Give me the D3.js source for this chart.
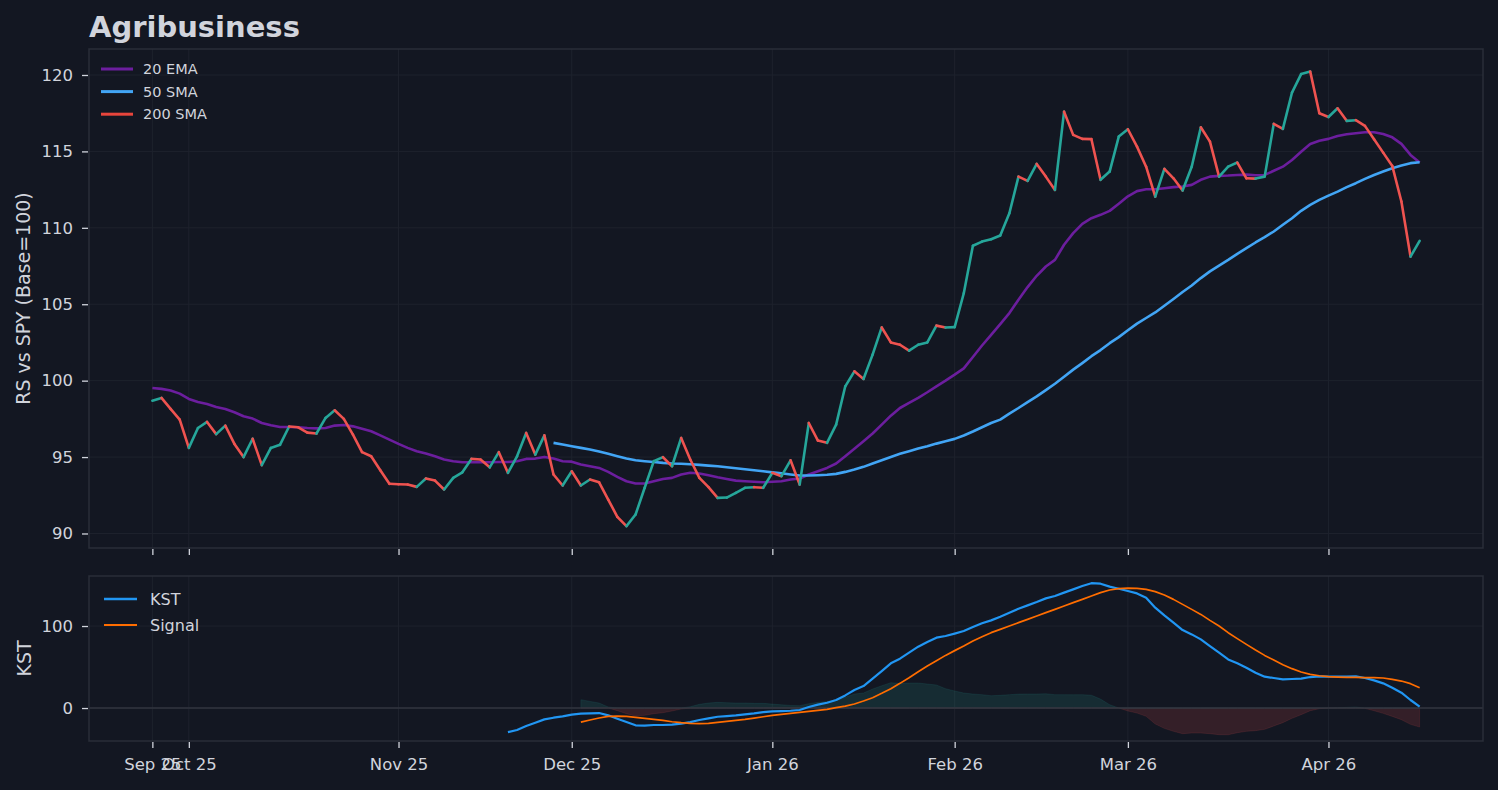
<!DOCTYPE html>
<html>
<head>
<meta charset="utf-8">
<script src="https://cdn.jsdelivr.net/npm/d3@7"></script>
<style>
  html, body { margin: 0; padding: 0; background: #131722; }
  svg { display: block; font-family: 'DejaVu Sans', sans-serif; }
</style>
</head>
<body>
<div id="chart"></div>
<script>
// Relative strength vs SPY, one value per trading day (index based x axis)
const rs = [
  98.69, 98.87, 98.15, 97.45, 95.6, 96.9, 97.3, 96.5, 97.06, 95.86,
  95.0, 96.2, 94.47, 95.6, 95.8, 97.0, 96.95, 96.6, 96.54, 97.56,
  98.06, 97.5, 96.47, 95.32, 95.05, 94.14, 93.25, 93.22, 93.2, 93.05,
  93.6, 93.46, 92.88, 93.64, 94.0, 94.88, 94.84, 94.33, 95.32, 93.97,
  95.05, 96.58, 95.16, 96.42, 93.86, 93.14, 94.07, 93.14, 93.53, 93.35,
  92.22, 91.09, 90.48, 91.24, 92.99, 94.73, 95.0, 94.4, 96.25, 94.84,
  93.64, 93.03, 92.33, 92.35, 92.66, 92.99, 93.03, 92.99, 93.97, 93.75,
  94.79, 93.2, 97.23, 96.08, 95.93, 97.12, 99.63, 100.61, 100.11, 101.7,
  103.48, 102.5, 102.35, 101.96, 102.35, 102.5, 103.6, 103.48, 103.5, 105.72,
  108.83, 109.1, 109.25, 109.5, 110.95, 113.35, 113.07, 114.18, 113.35, 112.48,
  117.6, 116.08, 115.82, 115.8, 113.14, 113.68, 115.97, 116.45, 115.31, 114.0,
  112.04, 113.86, 113.24, 112.44, 114.0, 116.58, 115.64, 113.35, 114.0, 114.27,
  113.24, 113.22, 113.35, 116.8, 116.47, 118.85, 120.06, 120.22, 117.5, 117.25,
  117.82, 117.0, 117.04, 116.67, 115.8, 114.92, 114.05, 111.72, 108.12, 109.15
];

const ema20 = [
  99.52, 99.46, 99.35, 99.15, 98.8, 98.6, 98.47, 98.28, 98.15, 97.93,
  97.67, 97.52, 97.23, 97.08, 96.97, 96.97, 96.95, 96.9, 96.88, 96.9,
  97.06, 97.1, 97.01, 96.86, 96.69, 96.42, 96.14, 95.86, 95.6, 95.38,
  95.23, 95.05, 94.84, 94.73, 94.66, 94.66, 94.66, 94.66, 94.68, 94.68,
  94.73, 94.88, 94.9, 95.01, 94.9, 94.73, 94.7, 94.51, 94.4, 94.29,
  94.03, 93.7, 93.42, 93.27, 93.27, 93.42, 93.57, 93.64, 93.86, 93.97,
  93.92, 93.81, 93.68, 93.57, 93.46, 93.42, 93.38, 93.35, 93.38, 93.42,
  93.53, 93.6, 93.86, 94.07, 94.29, 94.58, 95.05, 95.54, 96.03, 96.54,
  97.12, 97.71, 98.21, 98.54, 98.87, 99.24, 99.63, 100.0, 100.39, 100.8,
  101.55, 102.3, 103.0, 103.7, 104.42, 105.29, 106.12, 106.86, 107.47, 107.9,
  108.89, 109.65, 110.26, 110.63, 110.85, 111.11, 111.57, 112.06, 112.4, 112.52,
  112.52, 112.59, 112.66, 112.7, 112.81, 113.14, 113.35, 113.4, 113.42, 113.46,
  113.48, 113.44, 113.46, 113.73, 114.0, 114.44, 114.98, 115.49, 115.69, 115.82,
  116.01, 116.12, 116.19, 116.25, 116.25, 116.14, 115.92, 115.49, 114.77, 114.27
];

const sma50Start = 44;
const sma50 = [
  95.93, 95.82, 95.71, 95.6, 95.49, 95.36, 95.21, 95.05, 94.9, 94.79,
  94.73, 94.68, 94.62, 94.58, 94.56, 94.53, 94.49, 94.44, 94.4, 94.33,
  94.27, 94.2, 94.14, 94.07, 94.0, 93.94, 93.86, 93.79, 93.79, 93.81,
  93.84, 93.9, 94.03, 94.18, 94.36, 94.58, 94.79, 95.01, 95.21, 95.38,
  95.56, 95.71, 95.88, 96.03, 96.19, 96.41, 96.67, 96.95, 97.23, 97.45,
  97.84, 98.21, 98.6, 98.97, 99.38, 99.8, 100.25, 100.72, 101.15, 101.6,
  102.0, 102.45, 102.85, 103.3, 103.73, 104.1, 104.46, 104.9, 105.34, 105.8,
  106.23, 106.71, 107.15, 107.52, 107.9, 108.3, 108.67, 109.04, 109.39, 109.76,
  110.2, 110.63, 111.11, 111.5, 111.83, 112.11, 112.37, 112.66, 112.92, 113.2,
  113.46, 113.68, 113.9, 114.07, 114.23, 114.29
];

const kstStart = 39;
const kst = [
  -29.3, -26.8, -22, -17.9, -13.8, -11.8, -10.2, -8.1, -6.9, -6.5,
  -6.1, -8.9, -13, -17.1, -21.1, -21.5, -20.7, -20.7, -20.3, -19.1,
  -17.1, -14.6, -12.6, -10.6, -9.8, -8.9, -7.7, -6.5, -4.9, -4.1,
  -3.7, -3.3, -2.4, 1.2, 4.1, 6.5, 9.8, 15.4, 22, 26.8,
  35.8, 45.1, 54.5, 60.2, 67.5, 74.8, 80.5, 85.8, 87.8, 90.8,
  93.9, 98.8, 103.3, 106.9, 111.4, 116.3, 121.1, 125.2, 129.3, 133.7,
  136.6, 140.7, 144.7, 148.8, 152.2, 151.6, 148, 145.5, 142.7, 139.8,
  134.6, 122.4, 113, 104.1, 95.1, 89.8, 83.7, 75.6, 67.5, 59.3,
  54.5, 49.2, 43.1, 38.2, 36.6, 35, 35.4, 35.8, 37.8, 38.6,
  38.2, 38.2, 38.2, 38.6, 36.6, 33.7, 30.1, 24.8, 18.7, 9.8,
  1.6
];

const signalStart = 47;
const signal = [
  -17.1, -14.6, -12.2, -10.2, -9.8, -10.2, -11.4, -12.6, -13.8, -15,
  -16.7, -17.9, -18.7, -19.1, -18.7, -17.5, -16.3, -15, -13.8, -12.2,
  -10.6, -8.9, -7.7, -6.5, -5.3, -4.1, -2.8, -1.6, 0.4, 2.4,
  4.9, 8.5, 12.6, 17.9, 23.6, 30.1, 37, 44.3, 51.2, 57.7,
  64.2, 70, 75.6, 81.7, 87, 91.9, 95.9, 100, 104.1, 108.1,
  112.2, 116.3, 120.3, 124.4, 128.5, 132.5, 136.6, 140.7, 143.9, 145.5,
  146.3, 145.9, 144.7, 141.9, 137.8, 132.5, 126.4, 120.3, 114.2, 106.9,
  100, 91.9, 84.6, 77.6, 70.7, 64.2, 58.5, 52.8, 48, 43.9,
  41.1, 39.4, 38.2, 37.8, 37.4, 37.4, 37, 37, 36.6, 35,
  32.9, 29.7, 24.8
];

// first trading day of each month (index) and its label
const monthTickIdx = [0, 4, 27, 46, 68, 88, 107, 129];
const monthTickLabels = ['Sep 25', 'Oct 25', 'Nov 25', 'Dec 25', 'Jan 26', 'Feb 26', 'Mar 26', 'Apr 26'];

const rsTicks = [90, 95, 100, 105, 110, 115, 120];
const kstTicks = [0, 100];

const legendTop = [
  { name: '20 EMA', color: '#6c1e9e' },
  { name: '50 SMA', color: '#42a5f5' },
  { name: '200 SMA', color: '#e8453c' },
];
const legendBottom = [
  { name: 'KST', color: '#2196f3', w: 2.5 },
  { name: 'Signal', color: '#ff6d00', w: 2 },
];

const W = 1498, H = 790;
const C = {
  bg: '#131722', spine: '#2a2e39', grid: '#1e222d', text: '#d1d4dc',
  up: '#26a69a', down: '#ef5350', zero: '#30343f',
};

const svg = d3.select('#chart').append('svg')
  .attr('width', W).attr('height', H);
svg.append('rect').attr('width', W).attr('height', H).attr('fill', C.bg);

const boxTop = { l: 89, r: 1483, t: 49, b: 548 };
const boxBot = { l: 89, r: 1483, t: 576, b: 741 };

const n = rs.length;
const pad = (n - 1) * 0.05;
const x = d3.scaleLinear().domain([-pad, n - 1 + pad]).range([boxTop.l, boxTop.r]);
const yTop = d3.scaleLinear().domain([89.05, 121.7]).range([boxTop.b, boxTop.t]);
const yBot = d3.scaleLinear().domain([-40.2, 161]).range([boxBot.b, boxBot.t]);

const withIdx = (arr, start) => arr.map((v, i) => ({ i: i + start, v }));

function grid(box, y, yTicks) {
  const g = svg.append('g');
  g.selectAll('line.h').data(yTicks).enter().append('line')
    .attr('x1', box.l).attr('x2', box.r)
    .attr('y1', d => y(d)).attr('y2', d => y(d))
    .attr('stroke', C.grid).attr('stroke-width', 1);
  g.selectAll('line.v').data(monthTickIdx).enter().append('line')
    .attr('x1', d => x(d)).attr('x2', d => x(d))
    .attr('y1', box.t).attr('y2', box.b)
    .attr('stroke', C.grid).attr('stroke-width', 1);
}

function frame(box, y, yTicks, showXLabels) {
  svg.append('rect')
    .attr('x', box.l).attr('y', box.t)
    .attr('width', box.r - box.l).attr('height', box.b - box.t)
    .attr('fill', 'none').attr('stroke', C.spine).attr('stroke-width', 1.5);

  const yAxis = d3.axisLeft(y).tickValues(yTicks).tickSize(6).tickPadding(9);
  const ya = svg.append('g').attr('transform', `translate(${box.l - 1},0)`).call(yAxis);
  ya.select('.domain').remove();

  const xAxis = d3.axisBottom(x).tickValues(monthTickIdx).tickSize(6).tickPadding(10)
    .tickFormat((d, i) => showXLabels ? monthTickLabels[i] : '');
  const xa = svg.append('g').attr('transform', `translate(0,${box.b + 1})`).call(xAxis);
  xa.select('.domain').remove();

  [ya, xa].forEach(a => {
    a.selectAll('line').attr('stroke', C.text).attr('stroke-width', 1.3);
    a.selectAll('text').attr('fill', C.text).style('font-size', '16.5px')
      .style('font-family', "'DejaVu Sans', sans-serif");
  });
}

// ---------- top panel ----------
grid(boxTop, yTop, rsTicks);

const gTop = svg.append('g');
const lineTop = d3.line().x(d => x(d.i)).y(d => yTop(d.v));

gTop.append('path').datum(withIdx(ema20, 0))
  .attr('d', lineTop).attr('fill', 'none')
  .attr('stroke', legendTop[0].color).attr('stroke-width', 2.6).attr('stroke-linejoin', 'round');

gTop.append('path').datum(withIdx(sma50, sma50Start))
  .attr('d', lineTop).attr('fill', 'none')
  .attr('stroke', legendTop[1].color).attr('stroke-width', 2.6).attr('stroke-linejoin', 'round');

// price line, coloured per segment by direction
const segs = d3.range(1, n).map(i => ({ a: i - 1, b: i, up: rs[i] >= rs[i - 1] }));
gTop.selectAll('line.seg').data(segs).enter().append('line')
  .attr('x1', d => x(d.a)).attr('y1', d => yTop(rs[d.a]))
  .attr('x2', d => x(d.b)).attr('y2', d => yTop(rs[d.b]))
  .attr('stroke', d => d.up ? C.up : C.down)
  .attr('stroke-width', 2.6).attr('stroke-linecap', 'round');

frame(boxTop, yTop, rsTicks, false);

// legend top
const lgT = svg.append('g').attr('transform', 'translate(101,69)');
legendTop.forEach((d, k) => {
  const row = lgT.append('g').attr('transform', `translate(0,${k * 22.6})`);
  row.append('line').attr('x1', 0).attr('x2', 32).attr('stroke', d.color).attr('stroke-width', 3);
  row.append('text').attr('x', 42).attr('dy', '0.36em').text(d.name)
    .attr('fill', C.text).style('font-size', '14.5px');
});

// ---------- bottom panel ----------
grid(boxBot, yBot, kstTicks);
const gBot = svg.append('g');

const kstMap = new Map(withIdx(kst, kstStart).map(d => [d.i, d.v]));
const hist = withIdx(signal, signalStart).map(d => ({ i: d.i, v: kstMap.get(d.i) - d.v }));

const area = (fn) => d3.area().x(d => x(d.i)).y0(yBot(0)).y1(d => yBot(fn(d.v)));
gBot.append('path').datum(hist).attr('d', area(v => Math.max(v, 0)))
  .attr('fill', C.up).attr('fill-opacity', 0.15)
  .attr('stroke', C.up).attr('stroke-opacity', 0.12).attr('stroke-width', 1);
gBot.append('path').datum(hist).attr('d', area(v => Math.min(v, 0)))
  .attr('fill', C.down).attr('fill-opacity', 0.15)
  .attr('stroke', C.down).attr('stroke-opacity', 0.12).attr('stroke-width', 1);

gBot.append('line')
  .attr('x1', boxBot.l).attr('x2', boxBot.r).attr('y1', yBot(0)).attr('y2', yBot(0))
  .attr('stroke', C.zero).attr('stroke-width', 1.6);

const lineBot = d3.line().x(d => x(d.i)).y(d => yBot(d.v));
gBot.append('path').datum(withIdx(kst, kstStart)).attr('d', lineBot)
  .attr('fill', 'none').attr('stroke', legendBottom[0].color).attr('stroke-width', 2.2)
  .attr('stroke-linejoin', 'round');
gBot.append('path').datum(withIdx(signal, signalStart)).attr('d', lineBot)
  .attr('fill', 'none').attr('stroke', legendBottom[1].color).attr('stroke-width', 1.7)
  .attr('stroke-linejoin', 'round');

frame(boxBot, yBot, kstTicks, true);

const lgB = svg.append('g').attr('transform', 'translate(104,599)');
legendBottom.forEach((d, k) => {
  const row = lgB.append('g').attr('transform', `translate(0,${k * 26})`);
  row.append('line').attr('x1', 0).attr('x2', 33).attr('stroke', d.color).attr('stroke-width', d.w);
  row.append('text').attr('x', 46).attr('dy', '0.36em').text(d.name)
    .attr('fill', C.text).style('font-size', '16px');
});

// ---------- titles ----------
svg.append('text').attr('x', 89).attr('y', 37).text('Agribusiness')
  .attr('fill', C.text).style('font-size', '29px').style('font-weight', 'bold');

svg.append('text')
  .attr('transform', `translate(30,${(boxTop.t + boxTop.b) / 2}) rotate(-90)`)
  .attr('text-anchor', 'middle').text('RS vs SPY (Base=100)')
  .attr('fill', C.text).style('font-size', '19px');

svg.append('text')
  .attr('transform', `translate(31,${(boxBot.t + boxBot.b) / 2}) rotate(-90)`)
  .attr('text-anchor', 'middle').text('KST')
  .attr('fill', C.text).style('font-size', '19px');
</script>
</body>
</html>
